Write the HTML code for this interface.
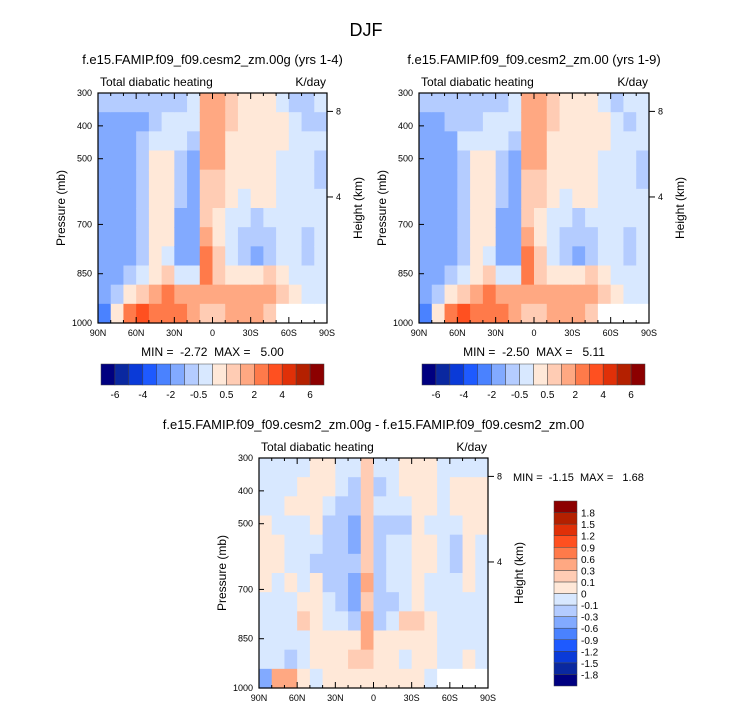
<!DOCTYPE html>
<html><head><meta charset="utf-8"><style>
body{margin:0;background:#fff;}
svg{display:block;font-family:"Liberation Sans",sans-serif;}
text{white-space:pre;}
</style></head><body>
<svg id="fig" width="733" height="712" viewBox="0 0 733 712">
<text x="366" y="36" font-size="18" text-anchor="middle">DJF</text>
</svg>
<script>
// ---- data ----
const latLabels = ["90N","60N","30N","0","30S","60S","90S"];
const presTicks = [300,400,500,700,850,1000];
const heightTicks = [8,4];
const levelsAbs = [-6,-5,-4,-3,-2,-1,-0.5,0,0.5,1,2,3,4,5,6];
const levelLabelsAbs = ["-6","-4","-2","-0.5","0.5","2","4","6"];
const levelsDiff = [-1.8,-1.5,-1.2,-0.9,-0.6,-0.3,-0.1,0,0.1,0.3,0.6,0.9,1.2,1.5,1.8];
const levelLabelsDiff = ["-1.8","-1.5","-1.2","-0.9","-0.6","-0.3","-0.1","0","0.1","0.3","0.6","0.9","1.2","1.5","1.8"];
const palette = ["#000080","#0a28a0","#0a3ad8","#1e5aff","#4a82ff","#82aaff","#b4ccff","#d8e8ff","#ffe8d8","#ffccb4","#ffa882","#ff7a4a","#ff5020","#e03008","#b42000","#8c0000"];
// columns: 90N->90S in 10deg bins; rows: top (300mb) -> bottom (1000mb)
const field1 = [
[-0.7,-1.5,-1.5,-1.5,-1.5,-1.5,-1.5,-1.5,-1.5,-1.5,-1.5,-2.5],
[-0.7,-1.5,-1.5,-1.5,-1.5,-1.5,-1.5,-1.5,-1.5,-1.5,-0.7,0.3],
[-0.7,-1.5,-1.5,-1.5,-1.5,-1.5,-1.5,-1.5,-1.5,-0.7,0.3,2.5],
[-0.7,-1.5,-0.7,-0.7,-0.7,-0.7,-0.7,-0.7,-0.7,-0.3,0.7,3.2],
[-0.7,-0.7,-0.3,0.3,0.3,0.3,0.3,0.3,0.3,0.3,1.5,2.5],
[-0.7,-0.3,-0.3,0.3,0.3,0.3,0.3,0.3,-0.3,0.7,2.5,2.5],
[-0.7,-0.3,-0.3,-0.7,-0.7,-0.7,-1.5,-1.5,-1.5,-0.3,1.5,2.5],
[-0.3,-0.3,-0.7,-1.5,-1.5,-1.5,-1.5,-1.5,-1.5,-0.3,1.5,1.5],
[1.5,1.5,1.5,1.5,0.7,0.7,0.7,1.5,2.5,2.5,1.5,0.7],
[1.5,1.5,1.5,1.5,0.7,0.7,0.3,0.3,0.7,0.7,1.5,0.7],
[0.7,0.7,0.3,0.3,0.3,0.3,-0.3,-0.3,-0.3,0.3,1.5,1.5],
[0.3,0.3,0.3,0.3,0.3,-0.3,-0.3,-0.7,-0.7,0.3,1.5,1.5],
[0.3,0.3,0.3,0.3,0.3,0.3,-0.7,-0.7,-1.5,0.3,1.5,1.5],
[0.3,0.3,0.3,0.3,0.3,0.3,-0.3,-0.7,-0.7,0.7,1.5,0.7],
[-0.3,0.3,0.3,-0.3,-0.3,-0.3,-0.3,-0.3,-0.3,0.3,0.7,null],
[-0.7,-0.3,-0.3,-0.3,-0.3,-0.3,-0.3,-0.3,-0.3,-0.3,0.3,null],
[-0.7,-0.7,-0.3,-0.3,-0.3,-0.3,-0.3,-0.7,-0.7,-0.3,-0.3,null],
[-0.3,-0.7,-0.3,-0.7,-0.7,-0.3,-0.3,-0.3,-0.3,-0.3,-0.3,null]
];
const field2 = [
[-0.7,-1.5,-1.5,-1.5,-1.5,-1.5,-1.5,-1.5,-1.5,-1.5,-1.5,-2.5],
[-0.7,-1.5,-1.5,-1.5,-1.5,-1.5,-1.5,-1.5,-1.5,-1.5,-0.7,0.3],
[-0.7,-0.7,-1.5,-1.5,-1.5,-1.5,-1.5,-1.5,-1.5,-0.7,0.3,2.5],
[-0.7,-0.7,-0.3,-0.7,-0.7,-0.7,-0.7,-0.7,-0.7,-0.3,0.7,3.2],
[-0.7,-0.7,-0.3,0.3,0.3,0.3,0.3,0.3,0.3,0.3,1.5,2.5],
[-0.7,-0.3,-0.3,0.3,0.3,0.3,0.3,0.3,-0.3,0.7,2.5,2.5],
[-0.7,-0.3,-0.3,-0.7,-0.7,-0.7,-1.5,-1.5,-1.5,-0.3,1.5,2.5],
[-0.3,-0.3,-0.7,-1.5,-1.5,-1.5,-1.5,-1.5,-1.5,-0.3,1.5,1.5],
[1.5,1.5,1.5,1.5,0.7,0.7,0.7,1.5,2.5,2.5,1.5,0.7],
[1.5,1.5,1.5,1.5,0.7,0.7,0.3,0.3,0.7,0.7,1.5,0.7],
[0.7,0.7,0.3,0.3,0.3,0.3,-0.3,-0.3,-0.3,0.3,1.5,1.5],
[0.3,0.3,0.3,0.3,0.3,-0.3,-0.3,-0.7,-0.7,0.3,1.5,1.5],
[0.3,0.3,0.3,0.3,0.3,0.3,-0.7,-0.7,-1.5,0.3,1.5,1.5],
[0.3,0.3,0.3,0.3,0.3,0.3,-0.3,-0.7,-0.7,0.7,1.5,0.7],
[-0.3,0.3,0.3,-0.3,-0.3,-0.3,-0.3,-0.3,-0.3,0.3,0.7,null],
[-0.7,-0.3,-0.3,-0.3,-0.3,-0.3,-0.3,-0.3,-0.3,-0.3,0.3,null],
[-0.3,-0.7,-0.3,-0.3,-0.3,-0.3,-0.3,-0.7,-0.7,-0.3,-0.3,null],
[-0.3,-0.3,-0.3,-0.7,-0.7,-0.3,-0.3,-0.3,-0.3,-0.3,-0.3,null]
];
const field3 = [
[-.05,-.05,-.05,.05,.05,.05,.05,-.05,-.05,-.05,-.05,-.4],
[-.05,-.05,-.05,-.05,.05,.05,-.05,-.05,-.05,-.05,-.05,.5],
[-.05,-.05,.05,-.05,-.05,-.05,.05,-.05,-.05,-.05,-.2,.5],
[-.05,.05,.05,-.05,-.05,-.05,-.05,.05,.2,-.05,-.05,.05],
[.05,.05,.05,.05,-.05,-.2,.05,.05,.05,.05,.05,-.05],
[.05,.05,-.05,-.2,-.2,-.2,-.2,-.05,-.05,.05,.05,.05],
[-.05,-.05,-.2,-.2,-.2,-.2,-.2,-.2,-.05,.05,.05,.05],
[-.05,-.2,-.2,-.4,-.4,-.2,-.4,-.4,-.2,.05,.2,.05],
[.2,.2,.2,.2,.2,.2,.4,.2,.4,.4,.2,.05],
[-.05,-.2,-.05,-.2,-.2,-.2,-.2,-.2,-.2,.05,.05,.05],
[-.05,-.05,-.05,-.2,-.05,-.05,-.05,-.2,-.05,.05,.05,.05],
[.05,.05,-.05,-.2,-.05,-.05,-.05,-.05,.2,.05,-.05,.05],
[.05,.05,.05,.05,.05,.05,.05,.05,.2,.05,.05,.05],
[.05,.05,.05,-.05,.05,.05,-.05,-.05,.05,.05,.05,-.05],
[-.05,-.05,-.05,-.05,-.05,-.05,-.05,-.05,-.05,-.05,-.05,null],
[-.05,.05,.05,-.05,-.2,-.2,-.05,-.05,-.05,-.05,-.05,null],
[-.05,.05,.05,.05,.05,.05,.05,-.05,-.05,-.05,.05,null],
[-.05,.05,.05,.05,-.05,-.05,-.05,-.05,-.05,-.05,-.05,null]
];
// ---- drawing ----
const NS="http://www.w3.org/2000/svg";
const svg=document.getElementById('fig');
function mk(tag,attrs,parent,txt){const e=document.createElementNS(NS,tag);for(const k in attrs)e.setAttribute(k,attrs[k]);if(txt!==undefined)e.textContent=txt;(parent||svg).appendChild(e);return e;}
function colorOf(v,levels){if(v===null)return "#ffffff";let i=0;while(i<levels.length&&v>=levels[i])i++;return palette[i];}
function yP(p,y0,h){return y0+h*(p-300)/700;}
function kmToP(z){return 1013.25*Math.pow(1-z/44.3308,5.2559);}
function drawPanel(g,x0,y0,w,h,field,levels,title,minmax){
  const xs=lat=>x0+w*(90-lat)/180;
  const nc=field.length,nr=field[0].length;
  for(let c=0;c<nc;c++)for(let r=0;r<nr;r++){
    const rc=mk('rect',{x:x0+c*w/nc,y:y0+r*h/nr,width:w/nc+0.6,height:h/nr+0.6,fill:colorOf(field[c][r],levels)},g);
    
    
  }
  const b=mk('rect',{x:x0,y:y0,width:w,height:h,fill:'none',stroke:'#000','stroke-width':1.2},g);
  
  for(let lat=90;lat>=-90;lat-=10){const x=xs(lat);const L=(lat%30===0)?6:3;
    mk('line',{x1:x,y1:y0+h,x2:x,y2:y0+h-L,stroke:'#000'},g);mk('line',{x1:x,y1:y0,x2:x,y2:y0+L,stroke:'#000'},g);}
  latLabels.forEach((t,i)=>{const e=mk('text',{x:xs(90-30*i),y:y0+h+13,'font-size':9,'text-anchor':'middle'},g,t);
    });
  presTicks.forEach(p=>{const y=yP(p,y0,h);mk('line',{x1:x0,y1:y,x2:x0+5,y2:y,stroke:'#000'},g);
    const e=mk('text',{x:x0-6,y:y+3,'font-size':9,'text-anchor':'end'},g,String(p));
    });
  heightTicks.forEach(km=>{const y=yP(kmToP(km),y0,h);
    mk('line',{x1:x0+w,y1:y,x2:x0+w+6,y2:y,stroke:'#000'},g);
    const e=mk('text',{x:x0+w+9,y:y+3,'font-size':9},g,String(km));
    });
  let e=mk('text',{x:x0+w/2,y:y0-29,'font-size':13,'text-anchor':'middle'},g,title);
  
  e=mk('text',{x:x0+2,y:y0-7,'font-size':12},g,'Total diabatic heating');
  
  e=mk('text',{x:x0+w-1,y:y0-7,'font-size':12,'text-anchor':'end'},g,'K/day');
  
  e=mk('text',{x:x0-33,y:y0+h/2,'font-size':12,'text-anchor':'middle',transform:`rotate(-90 ${x0-33} ${y0+h/2})`},g,'Pressure (mb)');
  
  e=mk('text',{x:x0+w+35,y:y0+h/2,'font-size':12,'text-anchor':'middle',transform:`rotate(-90 ${x0+w+35} ${y0+h/2})`},g,'Height (km)');
  
  if(minmax){e=mk('text',{x:x0+w/2,y:y0+h+33,'font-size':12,'text-anchor':'middle'},g,minmax);
    }
}
function hColorbar(g,x0,y0,w,h){const bw=w/16;
  palette.forEach((c,i)=>{const r=mk('rect',{x:x0+i*bw,y:y0,width:bw,height:h,fill:c,stroke:'#444','stroke-width':0.5},g);
    });
  levelLabelsAbs.forEach((t,i)=>{const e=mk('text',{x:x0+(2*i+1)*bw,y:y0+h+13,'font-size':10,'text-anchor':'middle'},g,t);
    });
}
function vColorbar(g,x0,y0,w,h){const bh=h/16;
  palette.forEach((c,i)=>{const r=mk('rect',{x:x0,y:y0+(15-i)*bh,width:w,height:bh,fill:c,stroke:'#444','stroke-width':0.5},g);
    });
  levelLabelsDiff.forEach((t,i)=>{const e=mk('text',{x:x0+w+4,y:y0+(15-i)*bh+4,'font-size':10},g,t);
    });
}
let g1=mk('g',{});
drawPanel(g1,98,93,229,230,field1,levelsAbs,'f.e15.FAMIP.f09_f09.cesm2_zm.00g (yrs 1-4)','MIN =  -2.72  MAX =   5.00');
hColorbar(g1,101,364,223,21);
let g2=mk('g',{});
drawPanel(g2,419,93,230,230,field2,levelsAbs,'f.e15.FAMIP.f09_f09.cesm2_zm.00 (yrs 1-9)','MIN =  -2.50  MAX =   5.11');
hColorbar(g2,422,364,223,21);
let g3=mk('g',{});
drawPanel(g3,259,458,229,230,field3,levelsDiff,'f.e15.FAMIP.f09_f09.cesm2_zm.00g - f.e15.FAMIP.f09_f09.cesm2_zm.00',null);
let mm=mk('text',{x:513,y:481,'font-size':11},g3,'MIN =  -1.15  MAX =   1.68');

vColorbar(g3,554,501,23,185);
</script>
</body></html>
